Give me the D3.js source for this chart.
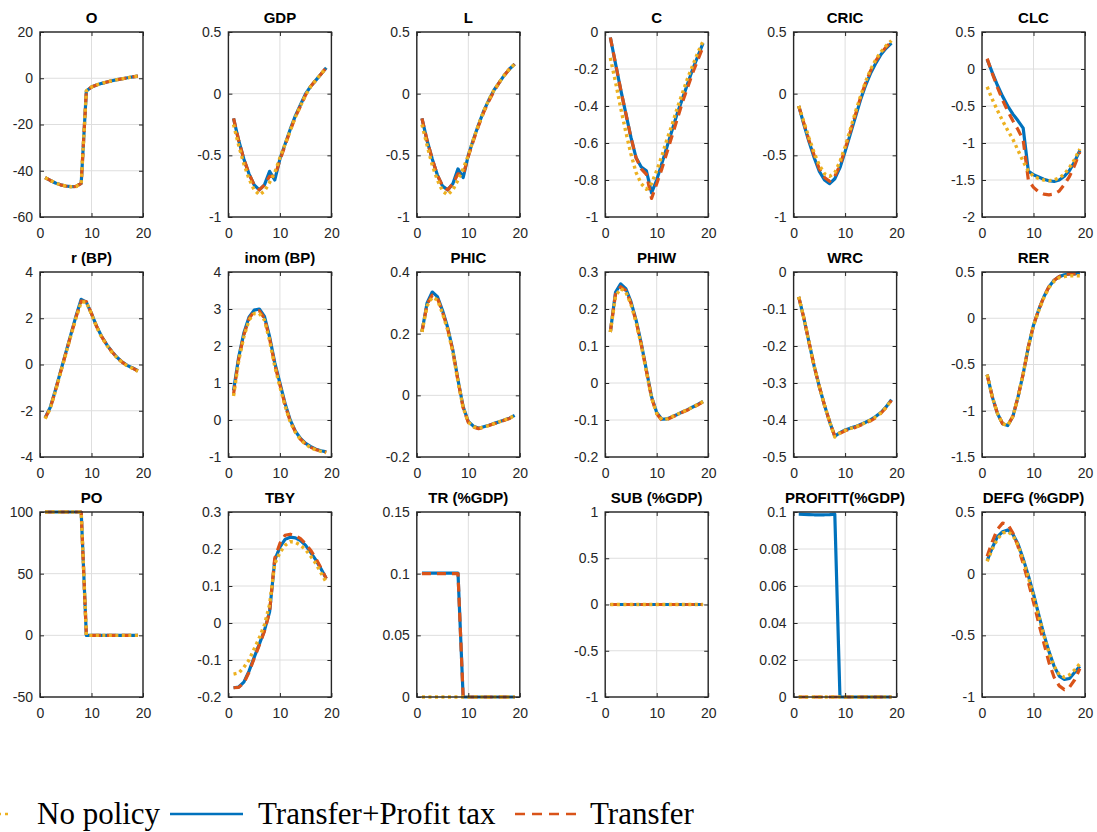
<!DOCTYPE html>
<html><head><meta charset="utf-8">
<script src="https://cdn.jsdelivr.net/npm/d3@7"></script>
<style>body{margin:0;background:#fff}</style>
</head><body><svg id="c" width="1097" height="832"></svg>
<script>
// ---------- DATA ----------
const periods = [1,2,3,4,5,6,7,8,9,10,11,12,13,14,15,16,17,18,19];
const xTicks = [0, 10, 20];
const seriesNames = ["No policy", "Transfer+Profit tax", "Transfer"];

// O
const O_tp = [-43.0,-44.2,-45.3,-46.1,-46.6,-46.9,-46.8,-45.5,-5.5,-3.8,-2.9,-2.2,-1.6,-1.1,-0.6,-0.2,0.2,0.6,0.9];
const O_tr = [-43.0,-44.2,-45.3,-46.1,-46.6,-46.9,-46.8,-45.5,-5.5,-3.8,-2.9,-2.2,-1.6,-1.1,-0.6,-0.2,0.2,0.6,0.9];
const O_np = [-43.0,-44.2,-45.3,-46.1,-46.6,-46.9,-46.8,-45.5,-5.5,-3.8,-2.9,-2.2,-1.6,-1.1,-0.6,-0.2,0.2,0.6,0.9];
const O_ticks = [-60,-40,-20,0,20];
// GDP
const GDP_tp = [-0.20,-0.38,-0.53,-0.65,-0.74,-0.78,-0.74,-0.63,-0.70,-0.53,-0.41,-0.29,-0.18,-0.09,0.00,0.06,0.11,0.16,0.21];
const GDP_tr = [-0.20,-0.38,-0.53,-0.65,-0.74,-0.78,-0.74,-0.67,-0.67,-0.54,-0.42,-0.30,-0.19,-0.10,-0.01,0.06,0.11,0.16,0.21];
const GDP_np = [-0.25,-0.42,-0.57,-0.69,-0.78,-0.82,-0.79,-0.72,-0.64,-0.52,-0.41,-0.30,-0.19,-0.10,-0.01,0.06,0.11,0.16,0.21];
const GDP_ticks = [-1,-0.5,0,0.5];
// L
const L_tp = [-0.20,-0.38,-0.53,-0.66,-0.75,-0.78,-0.73,-0.61,-0.68,-0.50,-0.37,-0.25,-0.14,-0.05,0.03,0.09,0.15,0.20,0.24];
const L_tr = [-0.20,-0.38,-0.53,-0.66,-0.75,-0.78,-0.73,-0.65,-0.66,-0.51,-0.38,-0.26,-0.15,-0.06,0.02,0.09,0.15,0.20,0.24];
const L_np = [-0.25,-0.42,-0.58,-0.70,-0.79,-0.82,-0.78,-0.70,-0.61,-0.50,-0.37,-0.25,-0.14,-0.05,0.03,0.09,0.15,0.20,0.24];
const L_ticks = [-1,-0.5,0,0.5];
// C
const C_tp = [-0.03,-0.17,-0.31,-0.44,-0.57,-0.68,-0.73,-0.75,-0.87,-0.80,-0.71,-0.62,-0.53,-0.44,-0.36,-0.28,-0.20,-0.13,-0.06];
const C_tr = [-0.03,-0.17,-0.31,-0.44,-0.57,-0.68,-0.74,-0.77,-0.90,-0.82,-0.74,-0.65,-0.56,-0.47,-0.38,-0.30,-0.22,-0.15,-0.08];
const C_np = [-0.14,-0.27,-0.41,-0.54,-0.66,-0.76,-0.82,-0.85,-0.82,-0.75,-0.67,-0.58,-0.50,-0.41,-0.33,-0.25,-0.18,-0.11,-0.05];
const C_ticks = [-1,-0.8,-0.6,-0.4,-0.2,0];
// CRIC
const CRIC_tp = [-0.10,-0.25,-0.39,-0.52,-0.63,-0.70,-0.73,-0.69,-0.60,-0.47,-0.33,-0.19,-0.05,0.07,0.17,0.25,0.32,0.37,0.41];
const CRIC_tr = [-0.10,-0.24,-0.38,-0.50,-0.61,-0.68,-0.71,-0.67,-0.58,-0.45,-0.31,-0.17,-0.03,0.09,0.19,0.27,0.33,0.38,0.42];
const CRIC_np = [-0.10,-0.23,-0.36,-0.48,-0.58,-0.65,-0.67,-0.64,-0.55,-0.43,-0.29,-0.15,-0.02,0.10,0.20,0.28,0.34,0.39,0.43];
const CRIC_ticks = [-1,-0.5,0,0.5];
// CLC
const CLC_tp = [0.13,-0.05,-0.22,-0.37,-0.50,-0.61,-0.70,-0.80,-1.38,-1.43,-1.46,-1.49,-1.51,-1.52,-1.50,-1.45,-1.37,-1.25,-1.10];
const CLC_tr = [0.14,-0.06,-0.25,-0.42,-0.57,-0.70,-0.82,-0.96,-1.50,-1.60,-1.66,-1.69,-1.70,-1.69,-1.65,-1.56,-1.45,-1.30,-1.12];
const CLC_np = [-0.24,-0.41,-0.56,-0.70,-0.83,-0.95,-1.10,-1.25,-1.38,-1.45,-1.48,-1.50,-1.51,-1.50,-1.47,-1.42,-1.33,-1.22,-1.08];
const CLC_ticks = [-2,-1.5,-1,-0.5,0,0.5];
// r (BP)
const R_tp = [-2.30,-1.85,-1.10,-0.30,0.50,1.30,2.10,2.82,2.70,2.20,1.65,1.20,0.85,0.55,0.30,0.10,-0.05,-0.15,-0.27];
const R_tr = [-2.32,-1.88,-1.13,-0.33,0.47,1.27,2.05,2.74,2.72,2.20,1.64,1.19,0.84,0.54,0.29,0.09,-0.06,-0.16,-0.28];
const R_np = [-2.35,-1.90,-1.15,-0.35,0.45,1.25,2.02,2.70,2.70,2.18,1.62,1.17,0.82,0.52,0.28,0.08,-0.07,-0.17,-0.29];
const R_ticks = [-4,-2,0,2,4];
// inom (BP)
const INOM_tp = [0.80,1.70,2.35,2.78,2.97,3.00,2.80,2.25,1.55,1.00,0.45,0.00,-0.30,-0.50,-0.63,-0.72,-0.79,-0.83,-0.86];
const INOM_tr = [0.70,1.65,2.30,2.74,2.93,2.95,2.75,2.20,1.50,0.95,0.41,-0.03,-0.32,-0.52,-0.65,-0.74,-0.80,-0.84,-0.87];
const INOM_np = [0.65,1.60,2.25,2.70,2.88,2.88,2.70,2.15,1.45,0.90,0.38,-0.05,-0.33,-0.53,-0.66,-0.75,-0.81,-0.85,-0.88];
const INOM_ticks = [-1,0,1,2,3,4];
// PHIC
const PHIC_tp = [0.206,0.300,0.335,0.320,0.275,0.220,0.147,0.050,-0.037,-0.085,-0.100,-0.107,-0.102,-0.097,-0.091,-0.086,-0.080,-0.074,-0.065];
const PHIC_tr = [0.206,0.295,0.325,0.315,0.270,0.215,0.143,0.047,-0.040,-0.088,-0.103,-0.108,-0.104,-0.098,-0.092,-0.087,-0.081,-0.075,-0.066];
const PHIC_np = [0.206,0.290,0.318,0.310,0.265,0.212,0.140,0.045,-0.040,-0.087,-0.102,-0.106,-0.103,-0.098,-0.092,-0.086,-0.080,-0.074,-0.065];
const PHIC_ticks = [-0.2,0,0.2,0.4];
// PHIW
const PHIW_tp = [0.138,0.245,0.268,0.255,0.220,0.170,0.107,0.035,-0.037,-0.080,-0.098,-0.097,-0.091,-0.085,-0.078,-0.072,-0.065,-0.058,-0.050];
const PHIW_tr = [0.138,0.240,0.260,0.250,0.216,0.166,0.104,0.032,-0.040,-0.083,-0.101,-0.099,-0.092,-0.086,-0.079,-0.073,-0.066,-0.059,-0.051];
const PHIW_np = [0.138,0.235,0.255,0.246,0.213,0.164,0.102,0.031,-0.040,-0.082,-0.099,-0.097,-0.091,-0.085,-0.078,-0.072,-0.065,-0.058,-0.050];
const PHIW_ticks = [-0.2,-0.1,0,0.1,0.2,0.3];
// WRC
const WRC_tp = [-0.067,-0.125,-0.190,-0.255,-0.310,-0.360,-0.405,-0.444,-0.434,-0.427,-0.422,-0.418,-0.412,-0.406,-0.399,-0.390,-0.379,-0.364,-0.345];
const WRC_tr = [-0.067,-0.125,-0.190,-0.255,-0.310,-0.360,-0.405,-0.444,-0.436,-0.429,-0.424,-0.420,-0.414,-0.408,-0.402,-0.393,-0.381,-0.366,-0.347];
const WRC_np = [-0.067,-0.125,-0.190,-0.255,-0.310,-0.360,-0.405,-0.446,-0.435,-0.428,-0.423,-0.419,-0.413,-0.407,-0.400,-0.391,-0.380,-0.365,-0.346];
const WRC_ticks = [-0.5,-0.4,-0.3,-0.2,-0.1,0];
// RER
const RER_tp = [-0.61,-0.85,-1.03,-1.14,-1.16,-1.06,-0.85,-0.60,-0.31,-0.075,0.09,0.23,0.34,0.41,0.45,0.47,0.48,0.48,0.49];
const RER_tr = [-0.61,-0.85,-1.03,-1.14,-1.16,-1.06,-0.85,-0.60,-0.31,-0.075,0.09,0.23,0.34,0.41,0.45,0.47,0.48,0.48,0.48];
const RER_np = [-0.61,-0.85,-1.03,-1.14,-1.16,-1.06,-0.85,-0.60,-0.31,-0.080,0.08,0.22,0.33,0.40,0.44,0.45,0.46,0.46,0.46];
const RER_ticks = [-1.5,-1,-0.5,0,0.5];
// PO
const PO_tp = [100,100,100,100,100,100,100,100,0,0,0,0,0,0,0,0,0,0,0];
const PO_tr = [100,100,100,100,100,100,100,100,0,0,0,0,0,0,0,0,0,0,0];
const PO_np = [100,100,100,100,100,100,100,100,0,0,0,0,0,0,0,0,0,0,0];
const PO_ticks = [-50,0,50,100];
// TBY
const TBY_tp = [-0.175,-0.173,-0.160,-0.130,-0.093,-0.057,-0.020,0.030,0.170,0.205,0.226,0.232,0.230,0.223,0.210,0.190,0.170,0.146,0.120];
const TBY_tr = [-0.175,-0.174,-0.162,-0.133,-0.096,-0.060,-0.022,0.030,0.175,0.215,0.237,0.240,0.236,0.228,0.214,0.196,0.174,0.148,0.120];
const TBY_np = [-0.138,-0.135,-0.120,-0.100,-0.070,-0.040,-0.005,0.050,0.160,0.190,0.210,0.220,0.218,0.210,0.198,0.180,0.160,0.135,0.110];
const TBY_ticks = [-0.2,-0.1,0,0.1,0.2,0.3];
// TR (%GDP)
const TR_tp = [0.1005,0.1005,0.1005,0.1005,0.1005,0.1005,0.1005,0.1005,0,0,0,0,0,0,0,0,0,0,0];
const TR_tr = [0.1,0.1,0.1,0.1,0.1,0.1,0.1,0.1,0,0,0,0,0,0,0,0,0,0,0];
const TR_np = [0,0,0,0,0,0,0,0,0,0,0,0,0,0,0,0,0,0,0];
const TR_ticks = [0,0.05,0.1,0.15];
// SUB (%GDP)
const SUB_tp = [0,0,0,0,0,0,0,0,0,0,0,0,0,0,0,0,0,0,0];
const SUB_tr = [0,0,0,0,0,0,0,0,0,0,0,0,0,0,0,0,0,0,0];
const SUB_np = [0,0,0,0,0,0,0,0,0,0,0,0,0,0,0,0,0,0,0];
const SUB_ticks = [-1,-0.5,0,0.5,1];
// PROFITT (%GDP)
const PROF_tp = [0.0988,0.0987,0.0986,0.0985,0.0985,0.0985,0.0986,0.0988,0,0,0,0,0,0,0,0,0,0,0];
const PROF_tr = [0,0,0,0,0,0,0,0,0,0,0,0,0,0,0,0,0,0,0];
const PROF_np = [0,0,0,0,0,0,0,0,0,0,0,0,0,0,0,0,0,0,0];
const PROF_ticks = [0,0.02,0.04,0.06,0.08,0.1];
// DEFG (%GDP)
const DEFG_tp = [0.106,0.21,0.30,0.34,0.355,0.32,0.24,0.12,-0.016,-0.165,-0.33,-0.49,-0.63,-0.75,-0.83,-0.857,-0.85,-0.80,-0.75];
const DEFG_tr = [0.14,0.26,0.36,0.41,0.40,0.33,0.22,0.08,-0.07,-0.23,-0.40,-0.56,-0.72,-0.84,-0.91,-0.94,-0.92,-0.86,-0.77];
const DEFG_np = [0.10,0.20,0.28,0.33,0.34,0.31,0.23,0.11,-0.03,-0.18,-0.34,-0.50,-0.64,-0.75,-0.82,-0.84,-0.82,-0.78,-0.73];
const DEFG_ticks = [-1,-0.5,0,0.5];

const panels = [
  {title:"O", tp:O_tp, tr:O_tr, np:O_np, ticks:O_ticks},
  {title:"GDP", tp:GDP_tp, tr:GDP_tr, np:GDP_np, ticks:GDP_ticks},
  {title:"L", tp:L_tp, tr:L_tr, np:L_np, ticks:L_ticks},
  {title:"C", tp:C_tp, tr:C_tr, np:C_np, ticks:C_ticks},
  {title:"CRIC", tp:CRIC_tp, tr:CRIC_tr, np:CRIC_np, ticks:CRIC_ticks},
  {title:"CLC", tp:CLC_tp, tr:CLC_tr, np:CLC_np, ticks:CLC_ticks},
  {title:"r (BP)", tp:R_tp, tr:R_tr, np:R_np, ticks:R_ticks},
  {title:"inom (BP)", tp:INOM_tp, tr:INOM_tr, np:INOM_np, ticks:INOM_ticks},
  {title:"PHIC", tp:PHIC_tp, tr:PHIC_tr, np:PHIC_np, ticks:PHIC_ticks},
  {title:"PHIW", tp:PHIW_tp, tr:PHIW_tr, np:PHIW_np, ticks:PHIW_ticks},
  {title:"WRC", tp:WRC_tp, tr:WRC_tr, np:WRC_np, ticks:WRC_ticks},
  {title:"RER", tp:RER_tp, tr:RER_tr, np:RER_np, ticks:RER_ticks},
  {title:"PO", tp:PO_tp, tr:PO_tr, np:PO_np, ticks:PO_ticks},
  {title:"TBY", tp:TBY_tp, tr:TBY_tr, np:TBY_np, ticks:TBY_ticks},
  {title:"TR (%GDP)", tp:TR_tp, tr:TR_tr, np:TR_np, ticks:TR_ticks},
  {title:"SUB (%GDP)", tp:SUB_tp, tr:SUB_tr, np:SUB_np, ticks:SUB_ticks},
  {title:"PROFITT(%GDP)", tp:PROF_tp, tr:PROF_tr, np:PROF_np, ticks:PROF_ticks},
  {title:"DEFG (%GDP)", tp:DEFG_tp, tr:DEFG_tr, np:DEFG_np, ticks:DEFG_ticks}
];

// ---------- STYLE ----------
const BLUE = "#0072BD", ORANGE = "#D95319", YELLOW = "#EDB120";
const AX = "#262626", GRID = "#dedede";
const W = 103, H = 185;
const colX = c => 40 + c * 188.4;
const rowY = r => 32 + r * 240;
const fmt = v => String(v);
const styles = {
  tp: {color: BLUE, dash: null, width: 3.2},
  tr: {color: ORANGE, dash: "9,6", width: 3.2},
  np: {color: YELLOW, dash: "3,3.5", width: 3.4}
};

const svg = d3.select("#c");
svg.append("rect").attr("width", 1097).attr("height", 832).attr("fill", "#fff");

panels.forEach((p, i) => {
  const c = i % 6, r = Math.floor(i / 6);
  const g = svg.append("g").attr("transform", `translate(${colX(c)},${rowY(r)})`);
  const x = d3.scaleLinear().domain([0, 20]).range([0, W]);
  const y = d3.scaleLinear().domain([p.ticks[0], p.ticks[p.ticks.length - 1]]).range([H, 0]);

  // grid
  g.append("g").selectAll("line").data(p.ticks).join("line")
    .attr("x1", 0).attr("x2", W).attr("y1", d => y(d)).attr("y2", d => y(d))
    .attr("stroke", GRID).attr("stroke-width", 1);
  g.append("g").selectAll("line").data(xTicks).join("line")
    .attr("y1", 0).attr("y2", H).attr("x1", d => x(d)).attr("x2", d => x(d))
    .attr("stroke", GRID).attr("stroke-width", 1);

  // clip
  const cid = "clip" + i;
  g.append("clipPath").attr("id", cid).append("rect")
    .attr("x", 0).attr("y", -2).attr("width", W).attr("height", H + 4);

  const line = d3.line().x((d, k) => x(periods[k])).y(d => y(d));
  const lg = g.append("g").attr("clip-path", `url(#${cid})`);
  ["tp", "tr", "np"].forEach(key => {
    const s = styles[key];
    lg.append("path").datum(p[key]).attr("d", line)
      .attr("fill", "none").attr("stroke", s.color)
      .attr("stroke-width", s.width)
      .attr("stroke-dasharray", s.dash)
      .attr("stroke-linejoin", "round");
  });

  // axes
  const styleAxis = sel => {
    sel.select(".domain").remove();
    sel.selectAll(".tick line").attr("stroke", AX);
    sel.selectAll("text").attr("fill", AX)
      .style("font-family", "Arial, 'Liberation Sans', Helvetica, sans-serif")
      .style("font-size", "14px");
  };
  g.append("g").attr("transform", `translate(0,${H})`)
    .call(d3.axisBottom(x).tickValues(xTicks).tickSizeInner(-4).tickSizeOuter(0).tickPadding(11).tickFormat(fmt))
    .call(styleAxis);
  g.append("g")
    .call(d3.axisTop(x).tickValues(xTicks).tickSizeInner(-4).tickSizeOuter(0).tickFormat(""))
    .call(styleAxis);
  g.append("g")
    .call(d3.axisLeft(y).tickValues(p.ticks).tickSizeInner(-4).tickSizeOuter(0).tickPadding(7).tickFormat(fmt))
    .call(styleAxis);
  g.append("g").attr("transform", `translate(${W},0)`)
    .call(d3.axisRight(y).tickValues(p.ticks).tickSizeInner(-4).tickSizeOuter(0).tickFormat(""))
    .call(styleAxis);

  g.append("rect").attr("x", 0).attr("y", 0).attr("width", W).attr("height", H)
    .attr("fill", "none").attr("stroke", AX).attr("stroke-width", 1.4);

  g.append("text").attr("x", W / 2).attr("y", -9).attr("text-anchor", "middle")
    .attr("fill", "#000")
    .style("font-family", "Arial, 'Liberation Sans', Helvetica, sans-serif")
    .style("font-size", "15px").style("font-weight", "bold")
    .text(p.title);
});

// ---------- LEGEND ----------
const leg = svg.append("g");
const legY = 814, legTextY = 824;
const legFont = g => g.style("font-family", "'Times New Roman', 'Liberation Serif', serif").style("font-size", "31px").attr("fill", "#000");
leg.append("line").attr("x1", -30).attr("x2", 8).attr("y1", legY).attr("y2", legY)
  .attr("stroke", YELLOW).attr("stroke-width", 2.5).attr("stroke-dasharray", "3,4");
leg.append("text").attr("x", 37).attr("y", legTextY).text(seriesNames[0]).call(legFont);
leg.append("line").attr("x1", 170).attr("x2", 243).attr("y1", legY).attr("y2", legY)
  .attr("stroke", BLUE).attr("stroke-width", 2.4);
leg.append("text").attr("x", 258).attr("y", legTextY).text(seriesNames[1]).call(legFont);
leg.append("line").attr("x1", 515).attr("x2", 580).attr("y1", legY).attr("y2", legY)
  .attr("stroke", ORANGE).attr("stroke-width", 2.4).attr("stroke-dasharray", "10,7");
leg.append("text").attr("x", 590).attr("y", legTextY).text(seriesNames[2]).call(legFont);
</script></body></html>
